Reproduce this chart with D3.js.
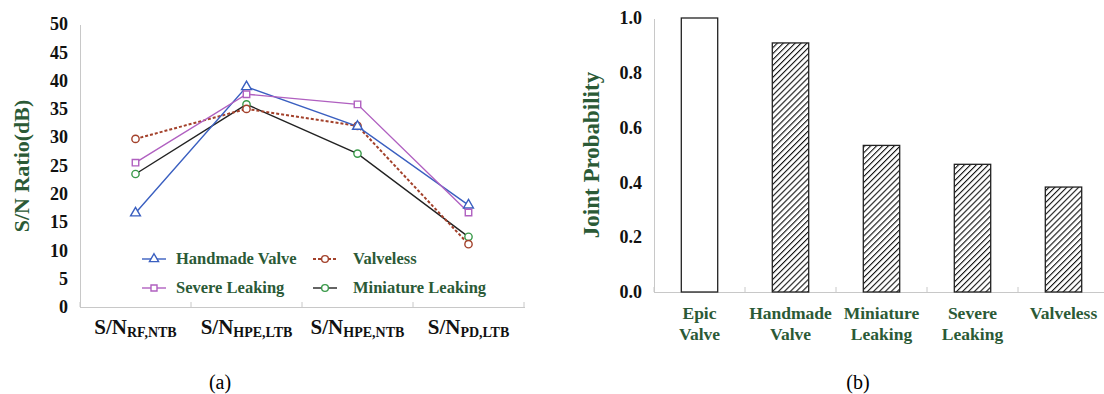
<!DOCTYPE html>
<html>
<head>
<script src="https://d3js.org/d3.v7.min.js"></script>
<style>
  body { margin: 0; background: #fff; }
  text { font-family: "Liberation Serif", "DejaVu Serif", serif; }
  .axis path, .axis line { stroke: #c8c8c8; shape-rendering: crispEdges; }
</style>
</head>
<body>
<script>
// (a) line chart data
const snCats = ["RF,NTB", "HPE,LTB", "HPE,NTB", "PD,LTB"];
const handmadeValve = [16.6, 38.9, 31.9, 18.0];
const severeLeaking = [25.5, 37.6, 35.8, 16.7];
const valveless = [29.7, 35.0, 32.0, 11.1];
const miniatureLeaking = [23.5, 35.8, 27.1, 12.4];
const snTicks = [0, 5, 10, 15, 20, 25, 30, 35, 40, 45, 50];

// (b) bar chart data
const valveCats = [["Epic", "Valve"], ["Handmade", "Valve"], ["Miniature", "Leaking"], ["Severe", "Leaking"], ["Valveless"]];
const jointProb = [1.0, 0.909, 0.535, 0.466, 0.383];
const probTicks = [0, 0.2, 0.4, 0.6, 0.8, 1.0];

const green = "#2b5a36";
const svg = d3.select("body").append("svg").attr("width", 1104).attr("height", 394);

const defs = svg.append("defs");
const pat = defs.append("pattern").attr("id", "hatch").attr("patternUnits", "userSpaceOnUse")
  .attr("width", 4.2).attr("height", 4.2).attr("patternTransform", "rotate(45)");
pat.append("rect").attr("width", 4.2).attr("height", 4.2).attr("fill", "#fff");
pat.append("line").attr("x1", 0).attr("y1", 0).attr("x2", 0).attr("y2", 4.2)
  .attr("stroke", "#111").attr("stroke-width", 2.2);

// ---------- (a) ----------
const xA = d3.scaleBand().domain(snCats).range([80, 524]);
const yA = d3.scaleLinear().domain([0, 50]).range([307, 24]);

const yAxisA = svg.append("g").attr("class", "axis").attr("transform", "translate(80,0)")
  .call(d3.axisLeft(yA).tickValues(snTicks).tickSize(0).tickPadding(12));
yAxisA.selectAll("text").attr("font-size", 18).attr("font-weight", "bold").attr("fill", "#111")
  .style("font-family", "Liberation Serif");

svg.append("g").attr("class", "axis").attr("transform", "translate(0,307)")
  .call(d3.axisBottom(xA).tickSize(0).tickFormat(""));
svg.append("g").selectAll("line").data(snCats.concat([null])).join("line")
  .attr("x1", d => d === null ? 524 : xA(d)).attr("x2", d => d === null ? 524 : xA(d))
  .attr("y1", 302).attr("y2", 307).attr("stroke", "#c8c8c8");

const xl = svg.append("g").selectAll("text").data(snCats).join("text")
  .attr("x", d => xA(d) + xA.bandwidth() / 2).attr("y", 334)
  .attr("text-anchor", "middle").attr("font-weight", "bold").attr("fill", "#111");
xl.append("tspan").attr("font-size", 21).text("S/N");
xl.append("tspan").attr("font-size", 14).attr("dy", 3).text(d => d);

svg.append("text").attr("transform", "translate(29,166) rotate(-90)")
  .attr("text-anchor", "middle").attr("font-size", 22).attr("font-weight", "bold")
  .attr("fill", green).text("S/N Ratio(dB)");

const series = [
  { name: "Handmade Valve", values: handmadeValve, line: "#3a5fc0", mark: "#3a5fc0", sym: d3.symbolTriangle, dash: null },
  { name: "Valveless", values: valveless, line: "#a3412b", mark: "#a3412b", sym: d3.symbolCircle, dash: "3,2" },
  { name: "Severe Leaking", values: severeLeaking, line: "#b060c0", mark: "#b060c0", sym: d3.symbolSquare, dash: null },
  { name: "Miniature Leaking", values: miniatureLeaking, line: "#222", mark: "#3a9a4a", sym: d3.symbolCircle, dash: null }
];

const line = d3.line().x((d, i) => xA(snCats[i]) + xA.bandwidth() / 2).y(d => yA(d));
const drawOrder = [3, 1, 0, 2];
drawOrder.forEach(k => {
  const s = series[k];
  svg.append("path").datum(s.values).attr("d", line).attr("fill", "none")
    .attr("stroke", s.line).attr("stroke-width", s.dash ? 2 : 1.4)
    .attr("stroke-dasharray", s.dash);
});
drawOrder.forEach(k => {
  const s = series[k];
  svg.append("g").selectAll("path").data(s.values).join("path")
    .attr("transform", (d, i) => `translate(${xA(snCats[i]) + xA.bandwidth() / 2},${yA(d)})`)
    .attr("d", d3.symbol(s.sym, 42)).attr("fill", "#fff").attr("stroke", s.mark).attr("stroke-width", 1.4);
});

// legend
const legPos = [[142, 259], [313, 259], [142, 288], [313, 288]];
series.forEach((s, i) => {
  const [lx, ly] = legPos[i];
  const g = svg.append("g").attr("transform", `translate(${lx},${ly})`);
  g.append("line").attr("x1", 0).attr("x2", 24).attr("y1", 0).attr("y2", 0)
    .attr("stroke", s.line).attr("stroke-width", s.dash ? 2 : 1.4).attr("stroke-dasharray", s.dash);
  g.append("path").attr("transform", "translate(12,0)").attr("d", d3.symbol(s.sym, 36))
    .attr("fill", "#fff").attr("stroke", s.mark).attr("stroke-width", 1.4);
  g.append("text").attr("x", i % 2 ? 40 : 34).attr("y", 5).attr("font-size", 16.5).attr("font-weight", "bold")
    .attr("fill", green).text(s.name);
});

// ---------- (b) ----------
const xB = d3.scaleBand().domain(valveCats.map(d => d.join(" "))).range([654, 1109]).paddingInner(0.6).paddingOuter(0.3);
const xBt = d3.scaleBand().domain(xB.domain()).range([654, 1109]);
const yB = d3.scaleLinear().domain([0, 1]).range([292, 18]);

const yAxisB = svg.append("g").attr("class", "axis").attr("transform", "translate(654,0)")
  .call(d3.axisLeft(yB).tickValues(probTicks).tickSize(0).tickPadding(12).tickFormat(d3.format(".1f")));
yAxisB.selectAll("text").attr("font-size", 18).attr("font-weight", "bold").attr("fill", "#111")
  .style("font-family", "Liberation Serif");
svg.append("g").attr("class", "axis").attr("transform", "translate(0,292)")
  .call(d3.axisBottom(xBt).tickSize(0).tickFormat(""));
svg.append("g").selectAll("line").data(xBt.domain()).join("line")
  .attr("x1", d => xBt(d)).attr("x2", d => xBt(d)).attr("y1", 287).attr("y2", 292).attr("stroke", "#c8c8c8");

svg.append("g").selectAll("rect").data(jointProb).join("rect")
  .attr("x", (d, i) => xB(xB.domain()[i])).attr("width", xB.bandwidth())
  .attr("y", d => yB(d)).attr("height", d => 292 - yB(d))
  .attr("fill", (d, i) => i === 0 ? "#fff" : "url(#hatch)")
  .attr("stroke", "#222").attr("stroke-width", 1.3);

const bl = svg.append("g").selectAll("text").data(valveCats).join("text")
  .attr("x", d => xBt(d.join(" ")) + xBt.bandwidth() / 2).attr("y", 319)
  .attr("text-anchor", "middle").attr("font-size", 17.5).attr("font-weight", "bold").attr("fill", green);
bl.selectAll("tspan").data(d => d).join("tspan")
  .attr("x", function () { return this.parentNode.getAttribute("x"); })
  .attr("dy", (d, i) => i === 0 ? 0 : 21).text(d => d);

svg.append("text").attr("transform", "translate(599,155) rotate(-90)")
  .attr("text-anchor", "middle").attr("font-size", 23).attr("font-weight", "bold")
  .attr("fill", green).text("Joint Probability");

// captions
svg.append("text").attr("x", 220).attr("y", 389).attr("text-anchor", "middle").attr("font-size", 20).text("(a)");
svg.append("text").attr("x", 858).attr("y", 389).attr("text-anchor", "middle").attr("font-size", 20).text("(b)");
</script>
</body>
</html>
